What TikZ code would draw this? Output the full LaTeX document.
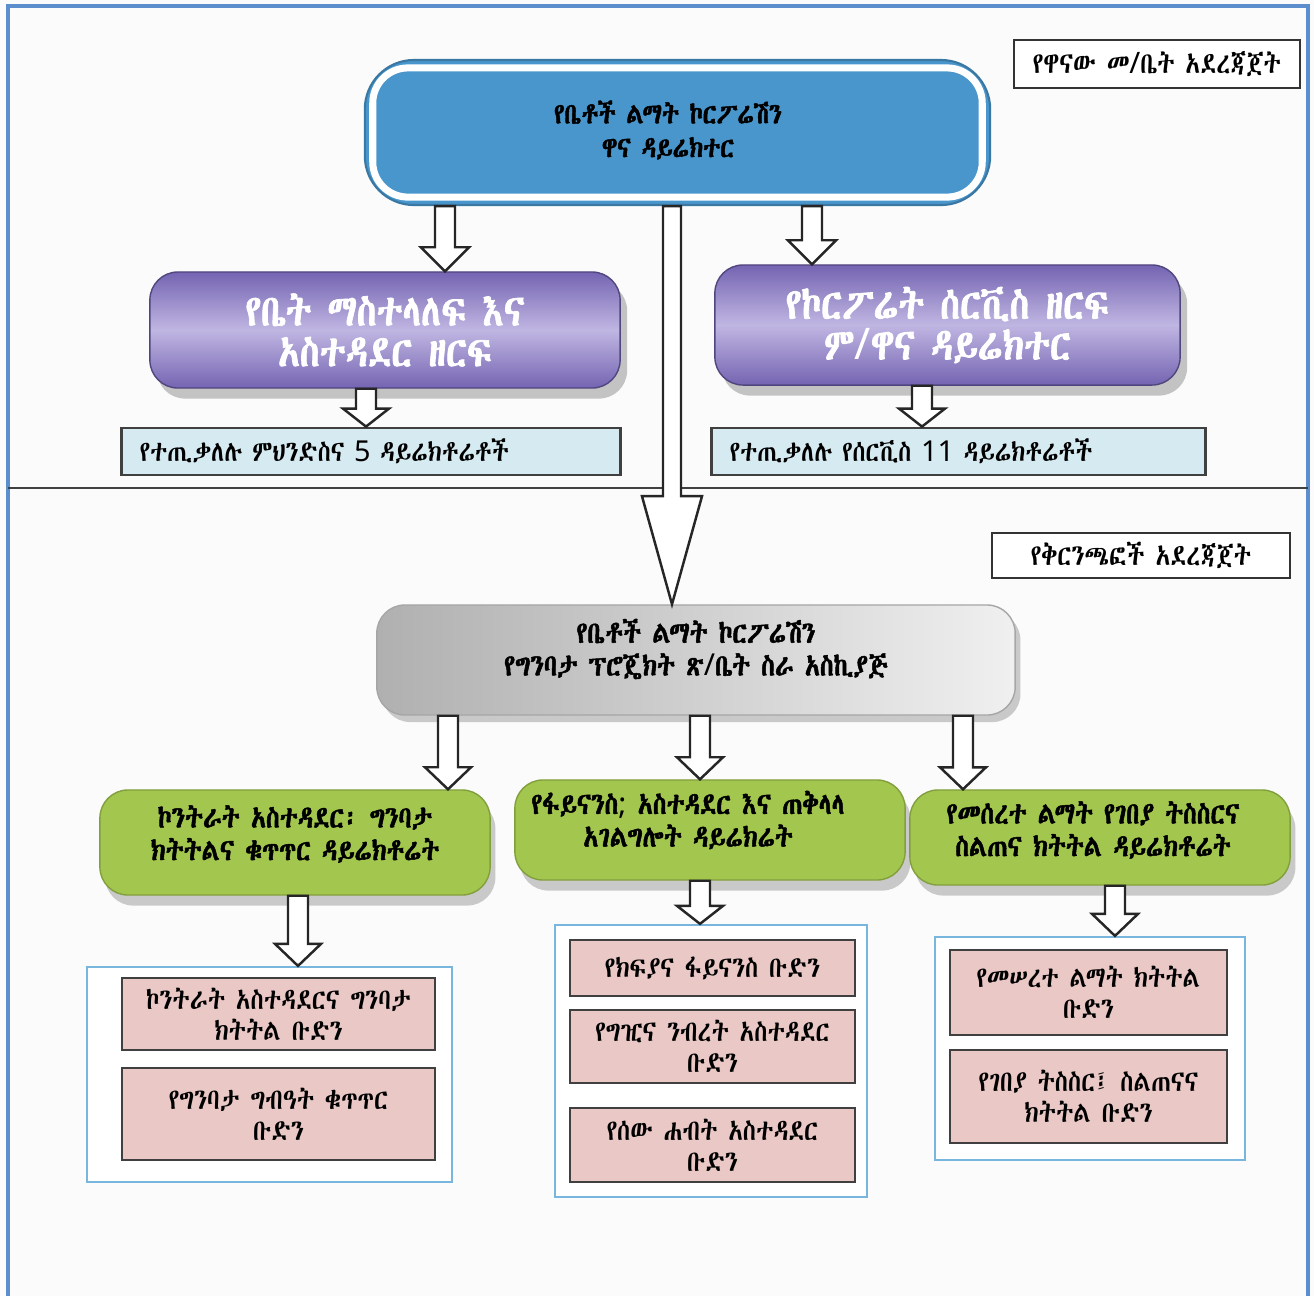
\documentclass[tikz,border=0pt]{standalone}
\usepackage{fontspec}
\usetikzlibrary{calc,shadows}
\IfFontExistsTF{Abyssinica SIL}{\newfontfamily\eth[AutoFakeBold=1.6,FakeStretch=0.82]{Abyssinica SIL}}{%
  \IfFontExistsTF{FreeSerif}{\newfontfamily\eth[FakeStretch=0.82]{FreeSerif}}{\newfontfamily\eth{Noto Sans}}}
\newfontfamily\lat{Noto Sans}
\definecolor{topblue}{RGB}{72,150,204}
\definecolor{purp}{RGB}{116,100,178}
\definecolor{purpl}{RGB}{192,182,226}
\definecolor{grn}{RGB}{163,199,78}
\definecolor{pnk}{RGB}{233,200,198}
\definecolor{lblue}{RGB}{214,234,242}
\definecolor{cont}{RGB}{120,182,222}
\definecolor{frame}{RGB}{92,142,205}
\definecolor{bgc}{RGB}{251,251,251}
\tikzset{
  base/.style={align=center, inner sep=2pt},
  topbox/.style={base, draw=topblue!80!black, fill=topblue, rounded corners=14pt, line width=0.6pt},
  toptxt/.style={base, font={\eth\bfseries\fontsize{8.2}{9.6}\selectfont}},
  labelbox/.style={base, draw=black!80, fill=white, line width=0.8pt,
    font={\eth\fontsize{8.4}{10}\selectfont}},
  purpbox/.style={base, draw=purp!70!black, top color=purp, bottom color=purp, middle color=purpl,
    rounded corners=8pt, text=white, drop shadow={shadow xshift=2pt, shadow yshift=-3pt, opacity=.45},
    font={\eth\bfseries\fontsize{12.4}{11.6}\selectfont}},
  lbbox/.style={base, draw=black!75, fill=lblue, line width=0.8pt, align=left,
    font={\eth\fontsize{8.2}{10}\selectfont}},
  graybox/.style={draw=gray!70, left color=gray!62, right color=gray!12, rounded corners=8pt,
    drop shadow={shadow xshift=1.5pt, shadow yshift=-2pt, opacity=.4}},
  grnbox/.style={fill=grn, draw=grn!80!black, rounded corners=8pt,
    drop shadow={shadow xshift=1.5pt, shadow yshift=-3pt, opacity=.4}},
  boldtxt/.style={base, font={\eth\bfseries\fontsize{8.6}{9.3}\selectfont}},
  contbox/.style={draw=cont, line width=0.6pt, fill=white},
  pnkbox/.style={base, draw=black!75, fill=pnk, line width=0.8pt,
    font={\eth\fontsize{8.3}{8.9}\selectfont}},
  barrowst/.style={draw=black!85, fill=white, line width=0.7pt, line join=miter},
}
\newcommand\barrow[6]{%
  \draw[barrowst] let \p0=(#1,0), \p1=(#2.south), \p2=(#3.north) in
    ({\x0-#4*0.28453pt},\y1) -- ({\x0-#4*0.28453pt},{\y2+#6*0.28453pt}) --
    ({\x0-#5*0.28453pt},{\y2+#6*0.28453pt}) -- (\x0,\y2) --
    ({\x0+#5*0.28453pt},{\y2+#6*0.28453pt}) -- ({\x0+#4*0.28453pt},{\y2+#6*0.28453pt}) --
    ({\x0+#4*0.28453pt},\y1) -- cycle;}
\begin{document}
\begin{tikzpicture}[x=0.01cm, y=-0.01cm]
\useasboundingbox (0,0) rectangle (1314,1296);
\fill[bgc] (0,0) rectangle (1314,1296);
% frame
\coordinate (f1) at (8,1296); \coordinate (f2) at (8,6);
\coordinate (f3) at (1308,6); \coordinate (f4) at (1308,1296);
\draw[frame, line width=0.9pt] (f1) -- (f2) -- (f3) -- (f4);
% divider
\coordinate (dl) at (8,488); \coordinate (dr) at (1308,488);
\draw[black!75, line width=0.7pt] (dl) -- (dr);

% top level
\node[topbox, minimum width=6.25cm, minimum height=1.45cm] (top) at (677.5,132.5) {};
\draw[white, line width=2pt, rounded corners=10pt]
  ($(top.north west)+(9,9)$) rectangle ($(top.south east)+(-9,-9)$);
\node[toptxt] (topt) at (668,130) {የቤቶች ልማት ኮርፖሬሽን\\ዋና ዳይሬክተር};
\node[labelbox, minimum width=2.86cm, minimum height=0.48cm] (lab1) at (1157,64)
  {የዋናው መ{\lat/}ቤት አደረጃጀት};

\node[purpbox, minimum width=4.70cm, minimum height=1.16cm] (pl) at (385,330)
  {የቤት ማስተላለፍ እና\\አስተዳደር ዘርፍ};
\node[purpbox, minimum width=4.65cm, minimum height=1.20cm] (pr) at (947.5,325)
  {የኮርፖሬት ሰርቪስ ዘርፍ\\ም{\lat/}ዋና ዳይሬክተር};

\node[lbbox, minimum width=4.98cm, minimum height=0.47cm, text width=4.62cm] (bl) at (371,451.5)
  {የተጢቃለሉ ምህንድስና {\lat 5} ዳይሬክቶሬቶች};
\node[lbbox, minimum width=4.93cm, minimum height=0.47cm, text width=4.57cm] (br) at (958.5,451.5)
  {የተጢቃለሉ የሰርቪስ {\lat 11} ዳይሬክቶሬቶች};

% branch level
\node[labelbox, minimum width=2.98cm, minimum height=0.45cm] (lab2) at (1141,555.5)
  {የቅርንጫፎች አደረጃጀት};
\node[graybox, minimum width=6.38cm, minimum height=1.10cm] (gr) at (696,660) {};
\node[boldtxt] (grt) at (696,649)
  {የቤቶች ልማት ኮርፖሬሽን\\የግንባታ ፕሮጄክት ጽ{\lat/}ቤት ስራ አስኪያጅ};

\node[grnbox, minimum width=3.90cm, minimum height=1.05cm] (gl) at (295,842.5) {};
\node[boldtxt] (glt) at (295,834)
  {ኮንትራት አስተዳደር፡ ግንባታ\\ክትትልና ቁጥጥር ዳይሬክቶሬት};
\node[grnbox, minimum width=3.90cm, minimum height=1.00cm] (gm) at (710,830) {};
\node[boldtxt] (gmt) at (688,820)
  {የፋይናንስ{\lat;} አስተዳደር እና ጠቅላላ\\አገልግሎት ዳይሬክሬት};
\node[grnbox, minimum width=3.80cm, minimum height=0.95cm] (gg) at (1100,837.5) {};
\node[boldtxt] (ggt) at (1093,830)
  {የመሰረተ ልማት የገበያ ትስስርና\\ስልጠና ክትትል ዳይሬክቶሬት};

% containers
\node[contbox, minimum width=3.65cm, minimum height=2.15cm] (cl) at (269.5,1074.5) {};
\node[contbox, minimum width=3.12cm, minimum height=2.72cm] (cm) at (711,1061) {};
\node[contbox, minimum width=3.10cm, minimum height=2.23cm] (cr) at (1090,1048.5) {};

\node[pnkbox, minimum width=3.13cm, minimum height=0.72cm] (l1) at (278.5,1014)
  {ኮንትራት አስተዳደርና ግንባታ\\ክትትል ቡድን};
\node[pnkbox, minimum width=3.13cm, minimum height=0.92cm] (l2) at (278.5,1114)
  {የግንባታ ግብዓት ቁጥጥር\\ቡድን};
\node[pnkbox, minimum width=2.85cm, minimum height=0.56cm] (m1) at (712.5,968)
  {የክፍያና ፋይናንስ ቡድን};
\node[pnkbox, minimum width=2.85cm, minimum height=0.73cm] (m2) at (712.5,1046.5)
  {የግዢና ንብረት አስተዳደር\\ቡድን};
\node[pnkbox, minimum width=2.85cm, minimum height=0.74cm] (m3) at (712.5,1145)
  {የሰው ሐብት አስተዳደር\\ቡድን};
\node[pnkbox, minimum width=2.77cm, minimum height=0.85cm] (r1) at (1088.5,992.5)
  {የመሠረተ ልማት ክትትል\\ቡድን};
\node[pnkbox, minimum width=2.77cm, minimum height=0.93cm] (r2) at (1088.5,1096.5)
  {የገበያ ትስስር፤ ስልጠናና\\ክትትል ቡድን};

% arrows
\barrow{445}{top}{pl}{10}{24}{24}
\barrow{812}{top}{pr}{10}{24}{24}
\barrow{672}{top}{gr}{9}{30}{108}
\barrow{366}{pl}{bl}{10}{23}{18}
\barrow{922}{pr}{br}{10}{23}{18}
\barrow{448}{gr}{gl}{10}{23}{22}
\barrow{700}{gr}{gm}{10}{23}{22}
\barrow{963}{gr}{gg}{10}{23}{22}
\barrow{298}{gl}{cl}{10}{23}{22}
\barrow{700}{gm}{cm}{10}{23}{18}
\barrow{1115}{gg}{cr}{10}{23}{22}
\end{tikzpicture}
\end{document}
